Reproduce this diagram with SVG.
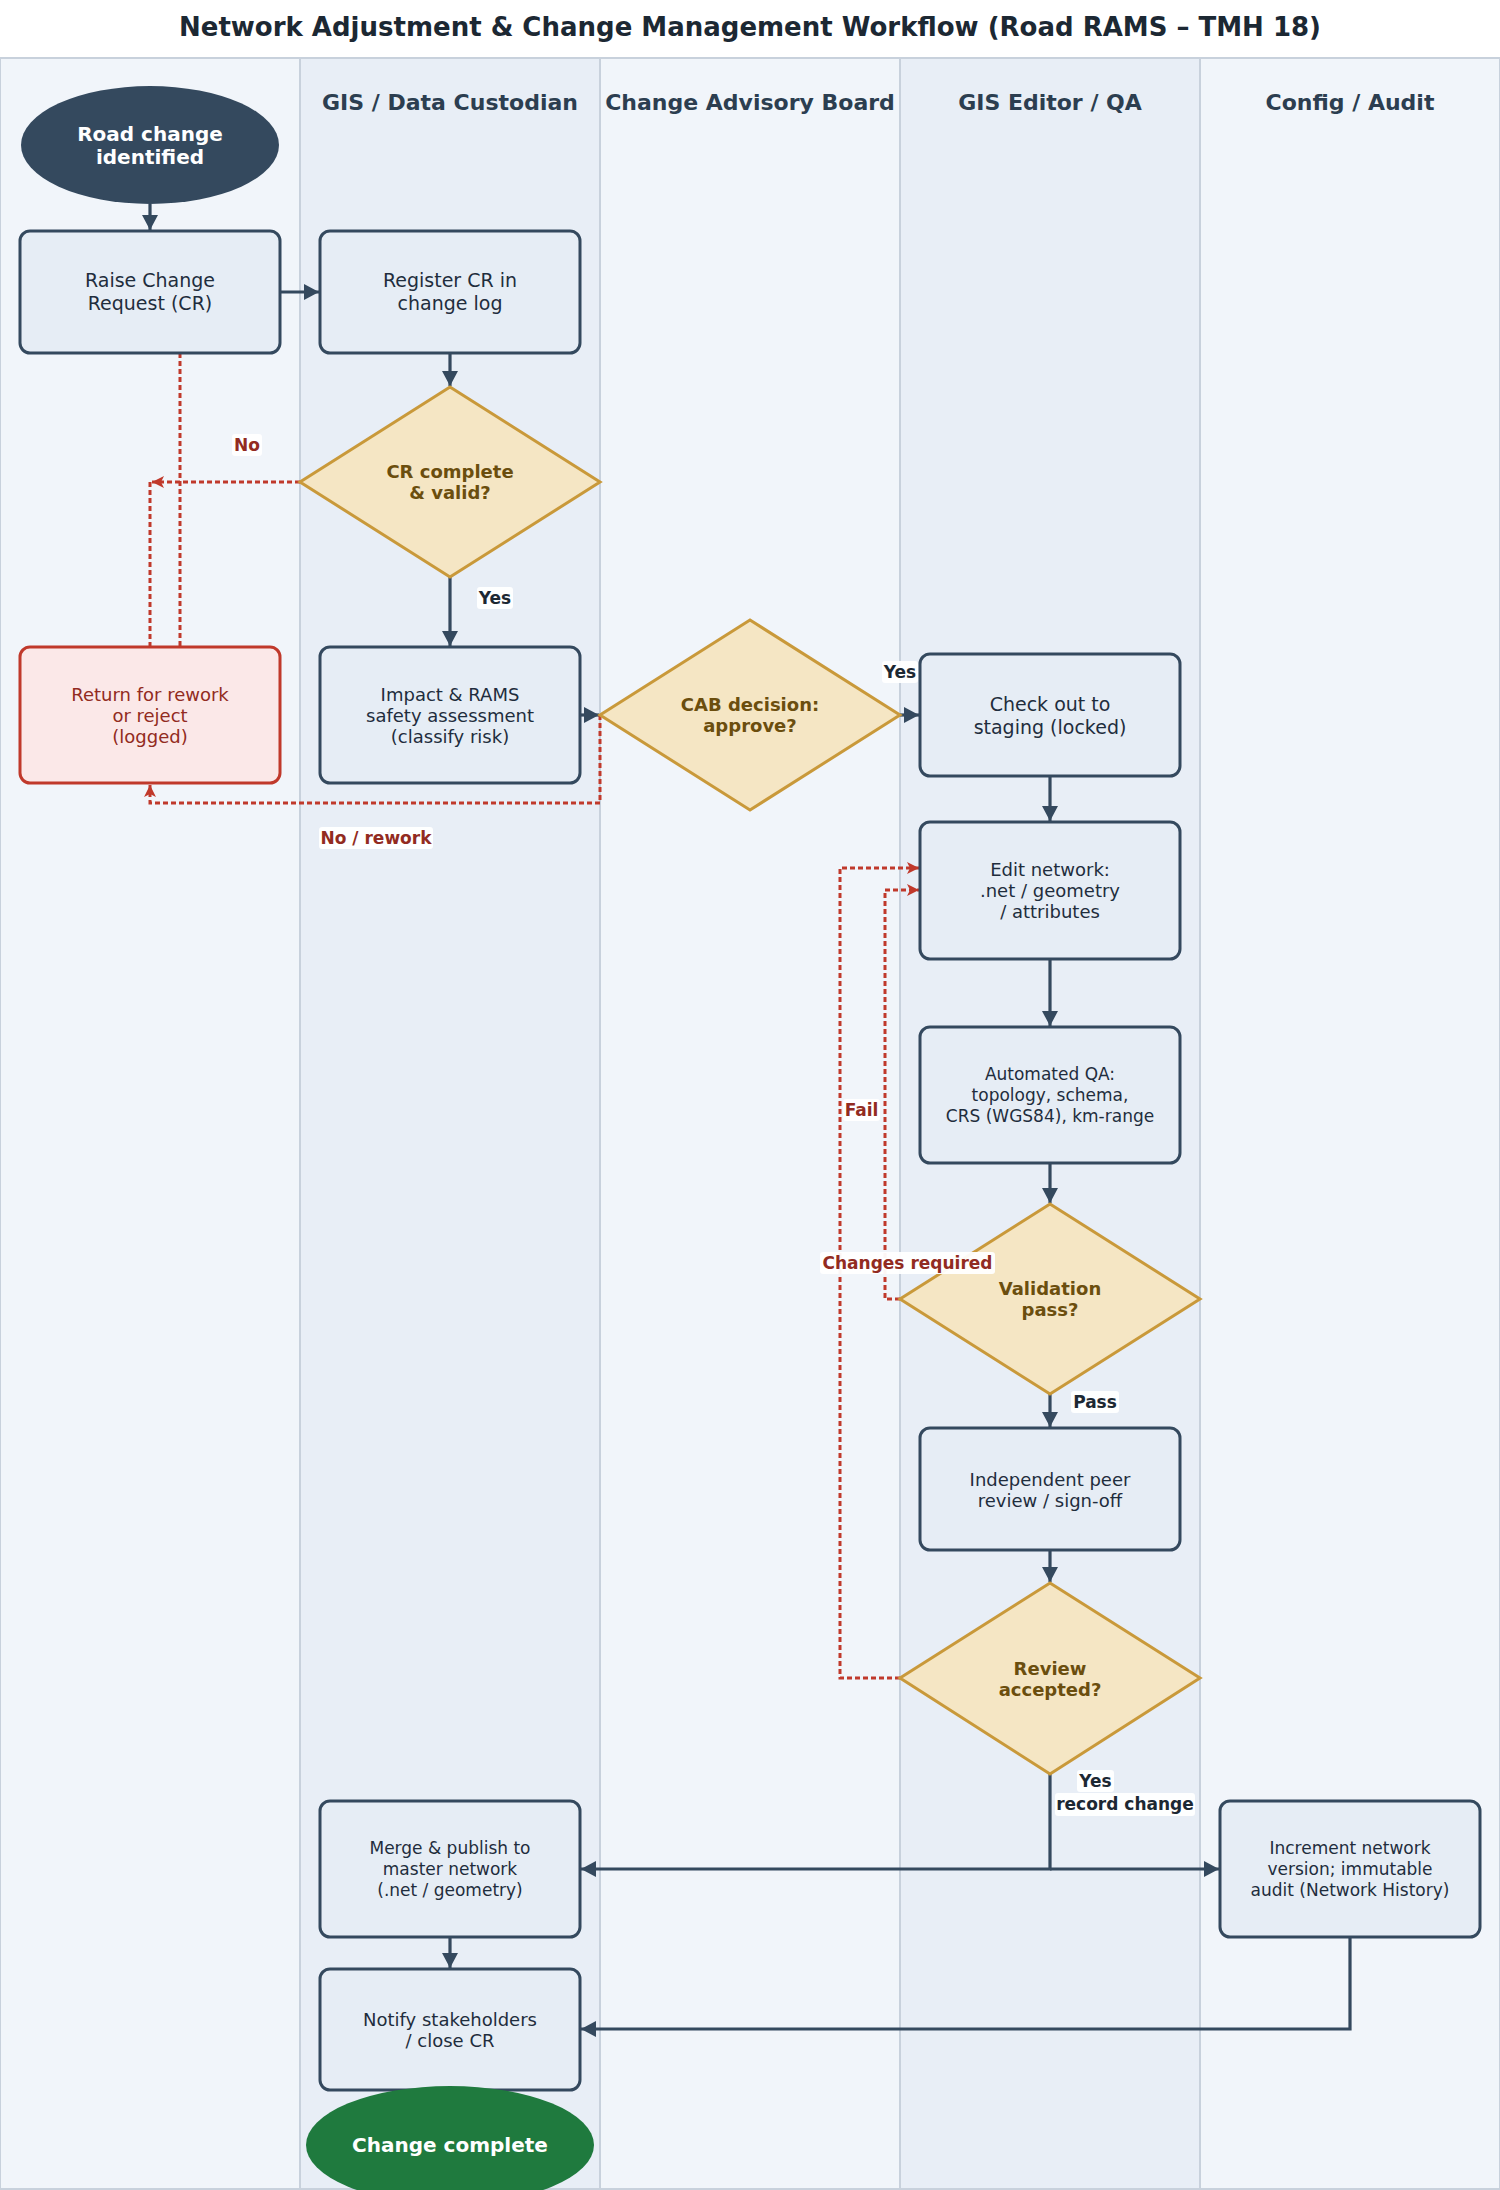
<svg xmlns="http://www.w3.org/2000/svg" width="1500" height="2190" viewBox="0 0 1500 2190">
<defs>
<style>
text{font-family:"DejaVu Sans","Liberation Sans",sans-serif;text-anchor:middle;dominant-baseline:central}
.title{font-size:26px;font-weight:bold;fill:#1c2833}
.lanehdr{font-size:22px;font-weight:bold;fill:#2c3e50}
.laneA{fill:#f1f5fa;stroke:#c8d1dc;stroke-width:2}
.laneB{fill:#e8eef6;stroke:#c8d1dc;stroke-width:2}
.box{fill:#e6edf5;stroke:#34495e;stroke-width:3}
.rbox{fill:#fbe8e8;stroke:#c0392b;stroke-width:3}
.dia{fill:#f5e6c4;stroke:#c9993a;stroke-width:3}
.t{fill:#1f2d3d}
.rt{fill:#922b21}
.dt{font-weight:bold;font-size:18px;fill:#6b4e0e}
.et{font-weight:bold;font-size:20px;fill:#ffffff}
.f19{font-size:19px}.f18{font-size:18px}.f17{font-size:17px}
.edge{fill:none;stroke:#34495e;stroke-width:3.2}
.redge{fill:none;stroke:#c0392b;stroke-width:3;stroke-dasharray:5 3}
.lbg{fill:#ffffff;opacity:0.95}
.lbl{font-size:17px;font-weight:bold;fill:#1c2833}
.rlbl{font-size:17px;font-weight:bold;fill:#922b21}
</style>
<marker id="ah" markerUnits="userSpaceOnUse" markerWidth="16" markerHeight="18" refX="15" refY="9" orient="auto">
<path d="M0,1 L15,9 L0,17 z" fill="#34495e"/>
</marker>
<marker id="rah" markerUnits="userSpaceOnUse" markerWidth="14" markerHeight="14" refX="12" refY="7" orient="auto">
<path d="M0,1 L12,7 L0,13 L3,7 z" fill="#c0392b"/>
</marker>
</defs>

<rect x="0" y="0" width="1500" height="2190" fill="#ffffff"/>
<text class="title" x="750" y="27">Network Adjustment &amp; Change Management Workflow (Road RAMS – TMH 18)</text>

<g id="lanes">
<rect class="laneA" x="0" y="58" width="300" height="2131"/>
<rect class="laneB" x="300" y="58" width="300" height="2131"/>
<rect class="laneA" x="600" y="58" width="300" height="2131"/>
<rect class="laneB" x="900" y="58" width="300" height="2131"/>
<rect class="laneA" x="1200" y="58" width="300" height="2131"/>
<text class="lanehdr" x="450" y="102">GIS / Data Custodian</text>
<text class="lanehdr" x="750" y="102">Change Advisory Board</text>
<text class="lanehdr" x="1050" y="102">GIS Editor / QA</text>
<text class="lanehdr" x="1350" y="102">Config / Audit</text>
</g>

<g id="connectors">
<path class="edge" d="M150,204 V230" marker-end="url(#ah)"/>
<path class="edge" d="M280,292 H319" marker-end="url(#ah)"/>
<path class="edge" d="M450,353 V386" marker-end="url(#ah)"/>
<path class="edge" d="M450,577 V646" marker-end="url(#ah)"/>
<path class="redge" d="M300,482 H152" marker-end="url(#rah)"/>
<path class="redge" d="M150,482 V647"/>
<path class="redge" d="M180,353 V647"/>
<path class="edge" d="M580,715 H599" marker-end="url(#ah)"/>
<path class="redge" d="M600,715 V803 H150 V785" marker-end="url(#rah)"/>
<path class="edge" d="M900,715 H919" marker-end="url(#ah)"/>
<path class="edge" d="M1050,776 V821" marker-end="url(#ah)"/>
<path class="edge" d="M1050,959 V1026" marker-end="url(#ah)"/>
<path class="edge" d="M1050,1163 V1203" marker-end="url(#ah)"/>
<path class="redge" d="M900,1299 H885 V890 H919" marker-end="url(#rah)"/>
<path class="edge" d="M1050,1394 V1427" marker-end="url(#ah)"/>
<path class="edge" d="M1050,1550 V1582" marker-end="url(#ah)"/>
<path class="redge" d="M900,1678 H840 V868 H919" marker-end="url(#rah)"/>
<path class="edge" d="M1050,1774 V1869 H581" marker-end="url(#ah)"/>
<path class="edge" d="M1050,1869 H1219" marker-end="url(#ah)"/>
<path class="edge" d="M450,1937 V1968" marker-end="url(#ah)"/>
<path class="edge" d="M1350,1937 V2029 H581" marker-end="url(#ah)"/>
</g>

<g id="n-start">
<ellipse cx="150" cy="145" rx="129" ry="59" fill="#34495e"/>
<text class="et"><tspan x="150" y="134">Road change</tspan><tspan x="150" y="157">identified</tspan></text>
</g>
<g id="n-raise">
<rect class="box" x="20" y="231" width="260" height="122" rx="10"/>
<text class="t f19"><tspan x="150" y="280">Raise Change</tspan><tspan x="150" y="303">Request (CR)</tspan></text>
</g>
<g id="n-register">
<rect class="box" x="320" y="231" width="260" height="122" rx="10"/>
<text class="t f19"><tspan x="450" y="280">Register CR in</tspan><tspan x="450" y="303">change log</tspan></text>
</g>
<g id="n-crvalid">
<polygon class="dia" points="450,387 600,482 450,577 300,482"/>
<text class="dt"><tspan x="450" y="471">CR complete</tspan><tspan x="450" y="492">&amp; valid?</tspan></text>
</g>
<g id="n-return">
<rect class="rbox" x="20" y="647" width="260" height="136" rx="10"/>
<text class="rt f18"><tspan x="150" y="694">Return for rework</tspan><tspan x="150" y="715">or reject</tspan><tspan x="150" y="736">(logged)</tspan></text>
</g>
<g id="n-impact">
<rect class="box" x="320" y="647" width="260" height="136" rx="10"/>
<text class="t f18"><tspan x="450" y="694">Impact &amp; RAMS</tspan><tspan x="450" y="715">safety assessment</tspan><tspan x="450" y="736">(classify risk)</tspan></text>
</g>
<g id="n-cab">
<polygon class="dia" points="750,620 900,715 750,810 600,715"/>
<text class="dt"><tspan x="750" y="704">CAB decision:</tspan><tspan x="750" y="725">approve?</tspan></text>
</g>
<g id="n-checkout">
<rect class="box" x="920" y="654" width="260" height="122" rx="10"/>
<text class="t f19"><tspan x="1050" y="704">Check out to</tspan><tspan x="1050" y="727">staging (locked)</tspan></text>
</g>
<g id="n-edit">
<rect class="box" x="920" y="822" width="260" height="137" rx="10"/>
<text class="t f18"><tspan x="1050" y="869">Edit network:</tspan><tspan x="1050" y="890">.net / geometry</tspan><tspan x="1050" y="911">/ attributes</tspan></text>
</g>
<g id="n-autoqa">
<rect class="box" x="920" y="1027" width="260" height="136" rx="10"/>
<text class="t f17"><tspan x="1050" y="1074">Automated QA:</tspan><tspan x="1050" y="1095">topology, schema,</tspan><tspan x="1050" y="1116">CRS (WGS84), km-range</tspan></text>
</g>
<g id="n-validation">
<polygon class="dia" points="1050,1204 1200,1299 1050,1394 900,1299"/>
<text class="dt"><tspan x="1050" y="1288">Validation</tspan><tspan x="1050" y="1309">pass?</tspan></text>
</g>
<g id="n-peer">
<rect class="box" x="920" y="1428" width="260" height="122" rx="10"/>
<text class="t f18"><tspan x="1050" y="1479">Independent peer</tspan><tspan x="1050" y="1500">review / sign-off</tspan></text>
</g>
<g id="n-review">
<polygon class="dia" points="1050,1583 1200,1678 1050,1774 900,1678"/>
<text class="dt"><tspan x="1050" y="1668">Review</tspan><tspan x="1050" y="1689">accepted?</tspan></text>
</g>
<g id="n-merge">
<rect class="box" x="320" y="1801" width="260" height="136" rx="10"/>
<text class="t f17"><tspan x="450" y="1848">Merge &amp; publish to</tspan><tspan x="450" y="1869">master network</tspan><tspan x="450" y="1890">(.net / geometry)</tspan></text>
</g>
<g id="n-increment">
<rect class="box" x="1220" y="1801" width="260" height="136" rx="10"/>
<text class="t f17"><tspan x="1350" y="1848">Increment network</tspan><tspan x="1350" y="1869">version; immutable</tspan><tspan x="1350" y="1890">audit (Network History)</tspan></text>
</g>
<g id="n-notify">
<rect class="box" x="320" y="1969" width="260" height="121" rx="10"/>
<text class="t f18"><tspan x="450" y="2019">Notify stakeholders</tspan><tspan x="450" y="2040">/ close CR</tspan></text>
</g>
<g id="n-end">
<ellipse cx="450" cy="2145" rx="144" ry="59" fill="#1f7a3e"/>
<text class="et" x="450" y="2145">Change complete</text>
</g>

<g id="edge-labels">
<rect class="lbg" x="232" y="434" width="30" height="22" rx="3"/>
<text class="rlbl" x="247" y="445">No</text>
<rect class="lbg" x="477" y="587" width="36" height="22" rx="3"/>
<text class="lbl" x="495" y="598">Yes</text>
<rect class="lbg" x="319" y="827" width="114" height="22" rx="3"/>
<text class="rlbl" x="376" y="838">No / rework</text>
<rect class="lbg" x="882" y="661" width="36" height="22" rx="3"/>
<text class="lbl" x="900" y="672">Yes</text>
<rect class="lbg" x="843" y="1099" width="37" height="22" rx="3"/>
<text class="rlbl" x="861.5" y="1110">Fail</text>
<rect class="lbg" x="820" y="1252" width="175" height="22" rx="3"/>
<text class="rlbl" x="907.5" y="1263">Changes required</text>
<rect class="lbg" x="1071" y="1391" width="48" height="22" rx="3"/>
<text class="lbl" x="1095" y="1402">Pass</text>
<rect class="lbg" x="1077" y="1770" width="37" height="22" rx="3"/>
<text class="lbl" x="1095.5" y="1781">Yes</text>
<rect class="lbg" x="1055" y="1793" width="140" height="23" rx="3"/>
<text class="lbl" x="1125" y="1804">record change</text>
</g>
</svg>
